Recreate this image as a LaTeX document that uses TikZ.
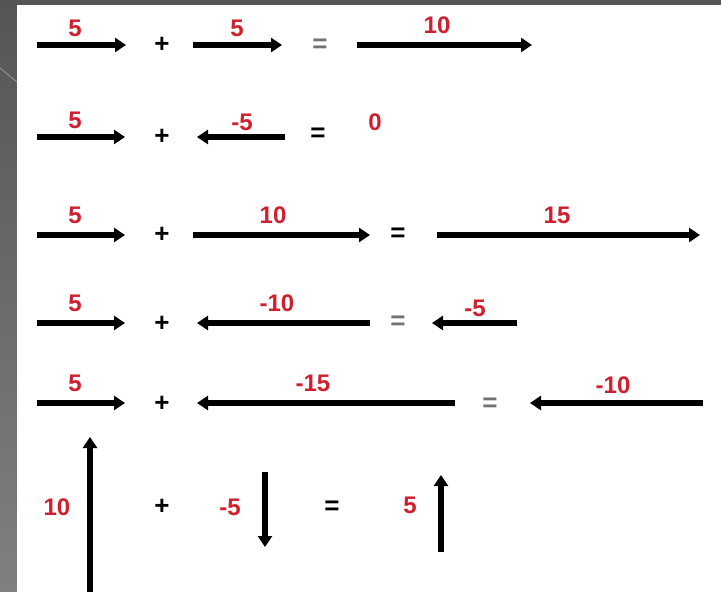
\documentclass[tikz,border=0pt]{standalone}
\usepackage{fontspec}
\setmainfont{Liberation Sans}
\usetikzlibrary{arrows.meta}
\definecolor{lblred}{HTML}{D02030}
\definecolor{frametop}{HTML}{555555}
\definecolor{stripbot}{HTML}{808080}
\begin{document}
\begin{tikzpicture}[x=0.5pt,y=-0.5pt,
  vec/.style={line width=2.7pt,-{Triangle[width=7pt,length=5.5pt]}},
  lbl/.style={text=lblred,font=\fontsize{12}{13}\selectfont\bfseries,inner sep=0pt},
  op/.style={font=\fontsize{13}{14}\selectfont\bfseries,inner sep=0pt},
  opg/.style={op,text=black!55}]
\useasboundingbox (0,0) rectangle (721,592);
% background frame
\fill[frametop] (0,0) rectangle (721,592);
\shade[top color=frametop,bottom color=stripbot] (0,0) rectangle (17,592);
\draw[black!40,line width=0.4pt] (0,68) -- (17,82);
\fill[white] (17,5) rectangle (721,592);

% ---------- row 1 ----------
\coordinate (a11s) at (37,45);  \coordinate (a11e) at (126,45);
\coordinate (a12s) at (193,45); \coordinate (a12e) at (282,45);
\coordinate (a13s) at (357,45); \coordinate (a13e) at (532,45);
\draw[vec] (a11s) -- (a11e);
\draw[vec] (a12s) -- (a12e);
\draw[vec] (a13s) -- (a13e);
\node[lbl] (l11) at (75,28) {5};
\node[lbl] (l12) at (237,28) {5};
\node[lbl] (l13) at (437,25) {10};
\node[op]  (p1) at (162,45) {+};
\node[opg] (e1) at (320,46) {=};

% ---------- row 2 ----------
\coordinate (a21s) at (37,137);  \coordinate (a21e) at (125,137);
\coordinate (a22s) at (285,137); \coordinate (a22e) at (197,137);
\draw[vec] (a21s) -- (a21e);
\draw[vec] (a22s) -- (a22e);
\node[lbl] (l21) at (75,120) {5};
\node[lbl] (l22) at (242,122) {-5};
\node[lbl] (l23) at (375,122) {0};
\node[op]  (p2) at (162,137) {+};
\node[op]  (e2) at (318,135) {=};

% ---------- row 3 ----------
\coordinate (a31s) at (37,235);  \coordinate (a31e) at (125,235);
\coordinate (a32s) at (193,235); \coordinate (a32e) at (370,235);
\coordinate (a33s) at (437,235); \coordinate (a33e) at (700,235);
\draw[vec] (a31s) -- (a31e);
\draw[vec] (a32s) -- (a32e);
\draw[vec] (a33s) -- (a33e);
\node[lbl] (l31) at (75,215) {5};
\node[lbl] (l32) at (273,215) {10};
\node[lbl] (l33) at (557,215) {15};
\node[op]  (p3) at (162,235) {+};
\node[op]  (e3) at (398,235) {=};

% ---------- row 4 ----------
\coordinate (a41s) at (37,323);  \coordinate (a41e) at (125,323);
\coordinate (a42s) at (370,323); \coordinate (a42e) at (197,323);
\coordinate (a43s) at (517,323); \coordinate (a43e) at (432,323);
\draw[vec] (a41s) -- (a41e);
\draw[vec] (a42s) -- (a42e);
\draw[vec] (a43s) -- (a43e);
\node[lbl] (l41) at (75,303) {5};
\node[lbl] (l42) at (277,303) {-10};
\node[lbl] (l43) at (475,308) {-5};
\node[op]  (p4) at (162,324) {+};
\node[opg] (e4) at (398,323) {=};

% ---------- row 5 ----------
\coordinate (a51s) at (37,403);  \coordinate (a51e) at (125,403);
\coordinate (a52s) at (455,403); \coordinate (a52e) at (197,403);
\coordinate (a53s) at (703,403); \coordinate (a53e) at (530,403);
\draw[vec] (a51s) -- (a51e);
\draw[vec] (a52s) -- (a52e);
\draw[vec] (a53s) -- (a53e);
\node[lbl] (l51) at (75,383) {5};
\node[lbl] (l52) at (313,383) {-15};
\node[lbl] (l53) at (613,385) {-10};
\node[op]  (p5) at (162,404) {+};
\node[opg] (e5) at (490,405) {=};

% ---------- row 6 (vertical) ----------
\coordinate (v1s) at (90,592);  \coordinate (v1e) at (90,437);
\coordinate (v2s) at (265,472); \coordinate (v2e) at (265,547);
\coordinate (v3s) at (441,552); \coordinate (v3e) at (441,475);
\draw[vec] (v1s) -- (v1e);
\draw[vec] (v2s) -- (v2e);
\draw[vec] (v3s) -- (v3e);
\node[lbl] (l61) at (57,507) {10};
\node[lbl] (l62) at (230,507) {-5};
\node[lbl] (l63) at (410,505) {5};
\node[op]  (p6) at (162,507) {+};
\node[op]  (e6) at (332,508) {=};
\end{tikzpicture}
\end{document}
